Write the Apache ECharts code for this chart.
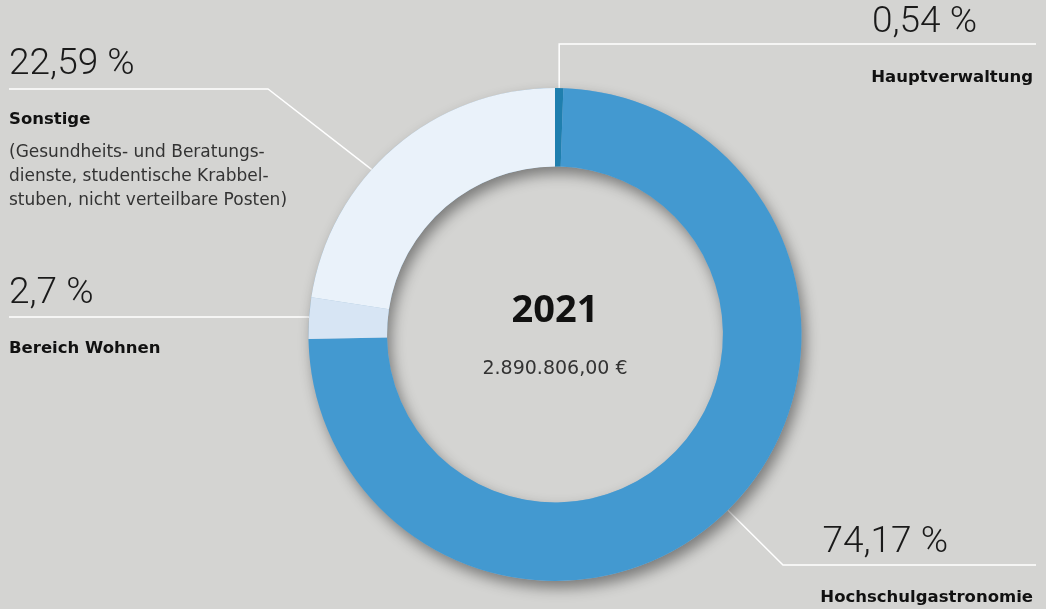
<!DOCTYPE html>
<html lang="de">
<head>
<meta charset="utf-8">
<title>Aufwand 2021</title>
<script src="https://cdn.jsdelivr.net/npm/echarts@6/dist/echarts.min.js"></script>
<style>
    html, body { margin: 0; padding: 0; background: #d4d4d2; }
    #chart { width: 1046px; height: 609px; }
</style>
</head>
<body>
<div id="chart"></div>
<script>
// data
var names = ['Hauptverwaltung', 'Hochschulgastronomie', 'Bereich Wohnen', 'Sonstige'];
var shares = [0.54, 74.17, 2.7, 22.59];
var notes = [[], [], [], ['(Gesundheits- und Beratungs-', 'dienste, studentische Krabbel-', 'stuben, nicht verteilbare Posten)']];
var year = '2021';
var total = '2.890.806,00 €';
var colors = ['#1f7fae', '#4399d0', '#d7e5f4', '#eaf2fa'];

// geometry + where each label sits (pixels)
var CX = 555, CY = 334.5, R0 = 168, R1 = 246.5;
var spots = [
    {x: 1033, y: 3, align: 'right', padR: 56, lineY: 44, endX: 1036},
    {x: 1033, y: 523, align: 'right', padR: 85, lineY: 565, kneeX: 783, endX: 1036},
    {x: 9, y: 274, align: 'left', padR: 0, lineY: 317, endX: 9},
    {x: 9, y: 45, align: 'left', padR: 0, lineY: 89, kneeX: 268, endX: 9, anchorDeg: 312}
];

var rich = {
    g: {fontSize: 10, lineHeight: 23},
    s: {fontSize: 8, lineHeight: 9},
    n: {fontFamily: 'DejaVu Sans', fontSize: 16.5, fontWeight: 'bold', color: '#111', lineHeight: 24},
    d: {fontFamily: 'DejaVu Sans', fontSize: 17, color: '#333', lineHeight: 24}
};
spots.forEach(function (s, i) {
    rich['p' + i] = {fontFamily: 'Roboto', fontWeight: 300, fontSize: 37, lineHeight: 40,
        color: '#1a1a1a', padding: [0, s.padR, 0, 0]};
});

function pct(v) {
    return String(v).replace('.', ',') + ' %';
}

var chart = echarts.init(document.getElementById('chart'));
chart.setOption({
    backgroundColor: '#d4d4d2',
    animation: false,
    title: {
        text: year,
        subtext: total,
        left: CX,
        top: 292,
        textAlign: 'center',
        padding: 0,
        itemGap: 29,
        textStyle: {fontFamily: 'Noto Sans', fontSize: 38, fontWeight: 'bold', color: '#111', lineHeight: 38},
        subtextStyle: {fontFamily: 'DejaVu Sans', fontSize: 19, color: '#333', lineHeight: 20}
    },
    series: [
        {
            // ring shadow underneath
            type: 'pie',
            silent: true,
            center: [CX, CY],
            radius: [R0, R1],
            label: {show: false},
            labelLine: {show: false},
            itemStyle: {color: '#8fb3cf', shadowBlur: 14, shadowOffsetX: 4, shadowOffsetY: 7, shadowColor: 'rgba(0,0,0,0.42)'},
            data: [{value: 1}]
        },
        {
            type: 'pie',
            center: [CX, CY],
            radius: [R0, R1],
            startAngle: 90,
            clockwise: true,
            avoidLabelOverlap: false,
            emphasis: {scale: false},
            data: names.map(function (n, i) {
                return {name: n, value: shares[i], itemStyle: {color: colors[i]}};
            }),
            label: {
                show: true,
                position: 'outside',
                rich: rich,
                formatter: function (p) {
                    var i = p.dataIndex;
                    var s = '{p' + i + '|' + pct(p.value) + '}\n{g| }\n{n|' + p.name + '}';
                    if (notes[i].length) {
                        s += '\n{s| }\n' + notes[i].map(function (l) { return '{d|' + l + '}'; }).join('\n');
                    }
                    return s;
                }
            },
            labelLine: {show: true, smooth: false, length: 10, length2: 10,
                lineStyle: {color: '#ffffff', width: 1.5}},
            labelLayout: function (params) {
                var sp = spots[params.dataIndex];
                var a = params.labelLinePoints ? params.labelLinePoints[0] : [CX, CY - R1];
                if (sp.anchorDeg != null) {
                    var rad = sp.anchorDeg * Math.PI / 180;
                    a = [CX + R1 * Math.sin(rad), CY - R1 * Math.cos(rad)];
                }
                var knee = [sp.kneeX != null ? sp.kneeX : a[0], sp.lineY];
                return {
                    x: sp.x,
                    y: sp.y,
                    align: sp.align,
                    verticalAlign: 'top',
                    labelLinePoints: [a, knee, [sp.endX, sp.lineY]]
                };
            }
        }
    ]
});
</script>
</body>
</html>
